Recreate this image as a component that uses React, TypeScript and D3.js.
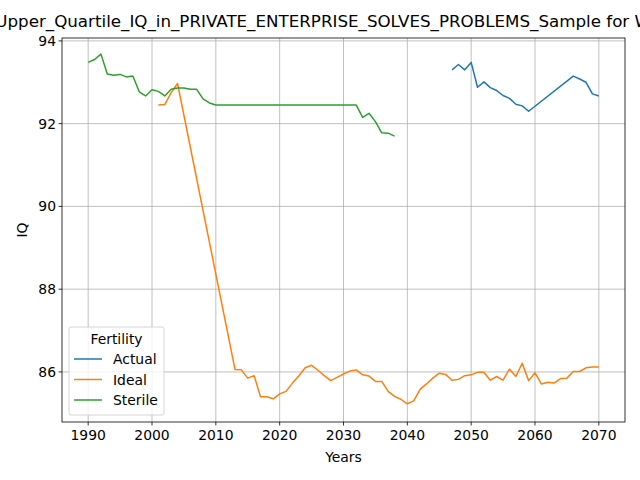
import React from "react";
import * as d3 from "d3";

const actualYears = [2047,2048,2049,2050,2051,2052,2053,2054,2055,2056,2057,2058,2059,2066,2067,2068,2069,2070];
const actualVals = [93.3,93.43,93.3,93.48,92.88,93.01,92.87,92.8,92.68,92.61,92.47,92.43,92.3,93.15,93.08,93.0,92.72,92.67];

const idealYears = [2001,2002,2003,2004,2013,2014,2015,2016,2017,2018,2019,2020,2021,2022,2023,2024,2025,2026,2027,2028,2029,2030,2031,2032,2033,2034,2035,2036,2037,2038,2039,2040,2041,2042,2043,2044,2045,2046,2047,2048,2049,2050,2051,2052,2053,2054,2055,2056,2057,2058,2059,2060,2061,2062,2063,2064,2065,2066,2067,2068,2069,2070];
const idealVals = [92.45,92.46,92.75,92.97,86.06,86.05,85.85,85.91,85.4,85.4,85.35,85.47,85.53,85.73,85.9,86.1,86.16,86.04,85.91,85.79,85.87,85.95,86.02,86.05,85.93,85.9,85.77,85.77,85.53,85.41,85.34,85.23,85.3,85.58,85.71,85.85,85.97,85.94,85.8,85.82,85.91,85.93,85.99,85.99,85.8,85.89,85.8,86.07,85.89,86.21,85.79,85.98,85.71,85.75,85.73,85.84,85.85,86.01,86.01,86.1,86.12,86.12];

const sterileYears = [1990,1991,1992,1993,1994,1995,1996,1997,1998,1999,2000,2001,2002,2003,2004,2005,2006,2007,2008,2009,2010,2032,2033,2034,2035,2036,2037,2038];
const sterileVals = [93.48,93.55,93.68,93.2,93.17,93.19,93.13,93.15,92.77,92.67,92.82,92.78,92.67,92.83,92.86,92.86,92.83,92.83,92.6,92.5,92.45,92.45,92.15,92.25,92.05,91.78,91.77,91.7];

const xTicks = [1990,2000,2010,2020,2030,2040,2050,2060,2070];
const yTicks = [86,88,90,92,94];

const series = [
  { name: "Actual", years: actualYears, vals: actualVals, color: "#1f77b4" },
  { name: "Ideal", years: idealYears, vals: idealVals, color: "#ff7f0e" },
  { name: "Sterile", years: sterileYears, vals: sterileVals, color: "#2ca02c" },
];

export default function App() {
  const L = 62, R = 625, T = 38, B = 422;
  const x = d3.scaleLinear().domain([1985.9, 2074.1]).range([L, R]);
  const y = d3.scaleLinear().domain([84.79, 94.07]).range([B, T]);
  const font = "DejaVu Sans, sans-serif";
  const fs = 13.9;
  return (
    <svg width={640} height={480} style={{ position: "absolute", left: 0, top: 0, background: "#fff" }} fontFamily={font}>
      <rect width={640} height={480} fill="#fff" />
      <defs><clipPath id="c"><rect x={L} y={T} width={R - L} height={B - T} /></clipPath></defs>
      {xTicks.map(t => <line key={"gx"+t} x1={x(t)} x2={x(t)} y1={T} y2={B} stroke="#b0b0b0" strokeWidth={0.8} />)}
      {yTicks.map(t => <line key={"gy"+t} x1={L} x2={R} y1={y(t)} y2={y(t)} stroke="#b0b0b0" strokeWidth={0.8} />)}
      <g clipPath="url(#c)">
        {series.map(s => {
          const pts = s.years.map((yr, i) => [x(yr), y(s.vals[i])] as [number, number]);
          return <path key={s.name} d={d3.line()(pts) || ""} fill="none" stroke={s.color} strokeWidth={1.5} strokeLinejoin="round" />;
        })}
      </g>
      <rect x={L} y={T} width={R - L} height={B - T} fill="none" stroke="#000" strokeWidth={0.8} />
      {xTicks.map(t => (
        <g key={"tx"+t}>
          <line x1={x(t)} x2={x(t)} y1={B} y2={B + 3.5} stroke="#000" strokeWidth={0.8} />
          <text x={x(t)} y={B + 18} fontSize={fs} textAnchor="middle">{t}</text>
        </g>
      ))}
      {yTicks.map(t => (
        <g key={"ty"+t}>
          <line x1={L - 3.5} x2={L} y1={y(t)} y2={y(t)} stroke="#000" strokeWidth={0.8} />
          <text x={L - 6} y={y(t) + 5} fontSize={fs} textAnchor="end">{t}</text>
        </g>
      ))}
      <text x={(L + R) / 2} y={462} fontSize={fs} textAnchor="middle">Years</text>
      <text transform={`translate(27,${(T + B) / 2}) rotate(-90)`} fontSize={fs} textAnchor="middle">IQ</text>
      <text x={(L + R) / 2} y={27} fontSize={16.7} textAnchor="middle">Upper_Quartile_IQ_in_PRIVATE_ENTERPRISE_SOLVES_PROBLEMS_Sample for Whites</text>
      <rect x={69} y={327} width={95} height={88} fill="#fff" fillOpacity={0.8} stroke="#ccc" strokeWidth={0.8} rx={2} />
      <text x={116.5} y={344} fontSize={fs} textAnchor="middle">Fertility</text>
      {series.map((s, i) => (
        <g key={"lg"+s.name}>
          <line x1={74} x2={102} y1={359 + i * 20.5} y2={359 + i * 20.5} stroke={s.color} strokeWidth={1.5} />
          <text x={113} y={364 + i * 20.5} fontSize={fs}>{s.name}</text>
        </g>
      ))}
    </svg>
  );
}
